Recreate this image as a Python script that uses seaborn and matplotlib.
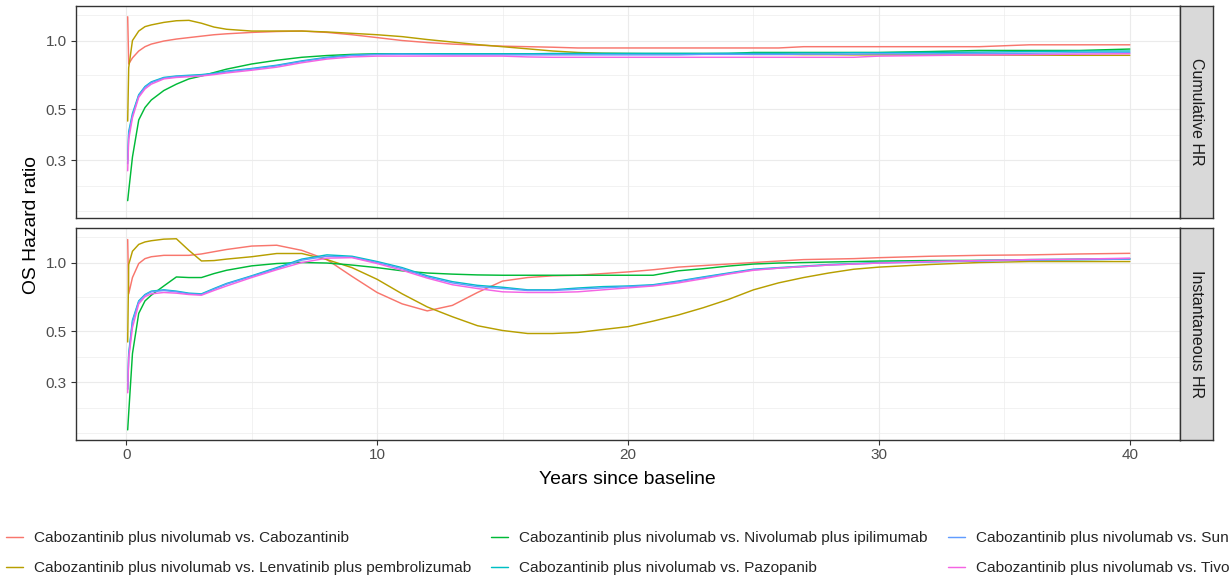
import numpy as np
import pandas as pd
import matplotlib
matplotlib.use("Agg")
import matplotlib.pyplot as plt
import seaborn as sns
from matplotlib.ticker import FixedLocator, FixedFormatter, NullFormatter
from matplotlib.lines import Line2D

# comparisons (legend order) and ggplot default hue colours
comparisons = [
    "Cabozantinib plus nivolumab vs. Cabozantinib",
    "Cabozantinib plus nivolumab vs. Lenvatinib plus pembrolizumab",
    "Cabozantinib plus nivolumab vs. Nivolumab plus ipilimumab",
    "Cabozantinib plus nivolumab vs. Pazopanib",
    "Cabozantinib plus nivolumab vs. Sunitinib",
    "Cabozantinib plus nivolumab vs. Tivozanib",
]
colors = ["#F8766D", "#B79F00", "#00BA38", "#00BFC4", "#619CFF", "#F564E3"]
panels = ["Cumulative HR", "Instantaneous HR"]

years = [0.06, 0.1, 0.25, 0.5, 0.75, 1, 1.5, 2, 2.5, 3, 3.5, 4, 5, 6, 7, 8, 9, 10,
         11, 12, 13, 14, 15, 16, 17, 18, 19, 20, 21, 22, 23, 24, 25, 26, 27, 28, 29,
         30, 32, 34, 36, 38, 40]

# cumulative HR
cum_cabo = [1.27, 0.79, 0.84, 0.90, 0.94, 0.965, 0.995, 1.015, 1.03, 1.045, 1.06, 1.07,
            1.085, 1.095, 1.10, 1.085, 1.06, 1.03, 1.00, 0.98, 0.965, 0.955, 0.945, 0.94,
            0.935, 0.928, 0.928, 0.928, 0.928, 0.928, 0.928, 0.928, 0.928, 0.928, 0.94,
            0.94, 0.94, 0.94, 0.94, 0.94, 0.958, 0.958, 0.958]
cum_lenva = [0.445, 0.76, 1.0, 1.10, 1.15, 1.17, 1.20, 1.22, 1.225, 1.19, 1.145, 1.12,
             1.10, 1.10, 1.10, 1.09, 1.075, 1.06, 1.04, 1.01, 0.985, 0.96, 0.94, 0.92,
             0.90, 0.887, 0.88, 0.877, 0.875, 0.875, 0.873, 0.872, 0.87, 0.87, 0.868,
             0.868, 0.866, 0.866, 0.865, 0.864, 0.863, 0.862, 0.862]
cum_nivo = [0.20, 0.22, 0.31, 0.45, 0.51, 0.55, 0.605, 0.645, 0.68, 0.70, 0.725, 0.75,
            0.79, 0.82, 0.845, 0.86, 0.87, 0.875, 0.875, 0.875, 0.875, 0.875, 0.875,
            0.875, 0.875, 0.878, 0.878, 0.878, 0.878, 0.878, 0.878, 0.878, 0.887, 0.887,
            0.887, 0.887, 0.887, 0.887, 0.895, 0.905, 0.905, 0.905, 0.918]
cum_pazo = [0.30, 0.40, 0.48, 0.58, 0.63, 0.66, 0.69, 0.70, 0.705, 0.71, 0.72, 0.735,
            0.755, 0.78, 0.815, 0.845, 0.865, 0.873, 0.875, 0.875, 0.875, 0.875, 0.875,
            0.875, 0.878, 0.878, 0.878, 0.878, 0.878, 0.878, 0.878, 0.88, 0.88, 0.88,
            0.882, 0.882, 0.885, 0.885, 0.888, 0.89, 0.895, 0.90, 0.90]
cum_suni = [0.29, 0.39, 0.47, 0.575, 0.625, 0.655, 0.685, 0.697, 0.70, 0.705, 0.715, 0.73,
            0.75, 0.775, 0.81, 0.84, 0.86, 0.868, 0.87, 0.868, 0.866, 0.866, 0.866, 0.866,
            0.866, 0.866, 0.866, 0.866, 0.866, 0.866, 0.87, 0.87, 0.87, 0.87, 0.872,
            0.872, 0.872, 0.875, 0.875, 0.878, 0.88, 0.885, 0.885]
cum_tivo = [0.27, 0.37, 0.46, 0.565, 0.615, 0.645, 0.68, 0.69, 0.695, 0.70, 0.71, 0.722,
            0.742, 0.765, 0.80, 0.83, 0.848, 0.855, 0.855, 0.855, 0.855, 0.855, 0.855,
            0.848, 0.845, 0.845, 0.845, 0.845, 0.845, 0.845, 0.845, 0.845, 0.845, 0.845,
            0.845, 0.845, 0.845, 0.855, 0.86, 0.865, 0.868, 0.872, 0.876]

# instantaneous HR
inst_cabo = [1.26, 0.73, 0.86, 0.99, 1.04, 1.06, 1.075, 1.075, 1.075, 1.09, 1.115, 1.14,
             1.18, 1.19, 1.13, 1.03, 0.87, 0.74, 0.66, 0.615, 0.65, 0.74, 0.83, 0.86,
             0.875, 0.88, 0.895, 0.91, 0.93, 0.955, 0.97, 0.985, 1.0, 1.015, 1.03, 1.035,
             1.04, 1.05, 1.065, 1.075, 1.08, 1.09, 1.097]
inst_lenva = [0.45, 0.98, 1.12, 1.20, 1.23, 1.245, 1.265, 1.27, 1.13, 1.016, 1.02, 1.035,
              1.06, 1.095, 1.095, 1.03, 0.95, 0.845, 0.73, 0.64, 0.58, 0.53, 0.505, 0.49,
              0.49, 0.495, 0.51, 0.525, 0.555, 0.59, 0.635, 0.69, 0.76, 0.815, 0.86, 0.90,
              0.935, 0.955, 0.98, 1.0, 1.01, 1.01, 1.01]
inst_nivo = [0.186, 0.22, 0.40, 0.60, 0.68, 0.72, 0.79, 0.865, 0.86, 0.86, 0.895, 0.925,
             0.967, 0.99, 1.0, 0.995, 0.975, 0.95, 0.92, 0.90, 0.89, 0.883, 0.88, 0.88,
             0.88, 0.88, 0.88, 0.88, 0.88, 0.92, 0.94, 0.965, 0.985, 0.995, 1.0, 1.005,
             1.01, 1.015, 1.02, 1.022, 1.025, 1.03, 1.035]
inst_pazo = [0.28, 0.40, 0.56, 0.68, 0.725, 0.75, 0.76, 0.75, 0.735, 0.73, 0.77, 0.81,
             0.875, 0.95, 1.035, 1.08, 1.065, 1.01, 0.95, 0.875, 0.825, 0.795, 0.78, 0.76,
             0.76, 0.774, 0.785, 0.79, 0.80, 0.83, 0.865, 0.90, 0.935, 0.95, 0.965, 0.98,
             0.99, 1.0, 1.01, 1.02, 1.03, 1.035, 1.04]
inst_suni = [0.28, 0.39, 0.55, 0.675, 0.72, 0.745, 0.755, 0.745, 0.73, 0.725, 0.765, 0.805,
             0.87, 0.94, 1.025, 1.065, 1.055, 1.0, 0.94, 0.865, 0.815, 0.785, 0.77, 0.755,
             0.755, 0.765, 0.775, 0.785, 0.795, 0.825, 0.86, 0.895, 0.93, 0.945, 0.96,
             0.975, 0.985, 0.995, 1.005, 1.015, 1.025, 1.03, 1.035]
inst_tivo = [0.27, 0.38, 0.52, 0.66, 0.71, 0.73, 0.74, 0.735, 0.725, 0.72, 0.755, 0.79,
             0.86, 0.93, 1.0, 1.045, 1.05, 0.99, 0.925, 0.855, 0.80, 0.77, 0.745, 0.74,
             0.74, 0.745, 0.76, 0.775, 0.79, 0.815, 0.85, 0.89, 0.925, 0.945, 0.96, 0.975,
             0.985, 0.995, 1.01, 1.02, 1.03, 1.035, 1.045]

cum_series = [cum_cabo, cum_lenva, cum_nivo, cum_pazo, cum_suni, cum_tivo]
inst_series = [inst_cabo, inst_lenva, inst_nivo, inst_pazo, inst_suni, inst_tivo]

rows = []
for panel, series in zip(panels, [cum_series, inst_series]):
    for comp, vals in zip(comparisons, series):
        for t, v in zip(years, vals):
            rows.append((panel, comp, t, v))
df = pd.DataFrame(rows, columns=["panel", "comparison", "year", "hr"])

sns.set_style("white")
plt.rcParams["font.family"] = ["Liberation Sans", "DejaVu Sans"]

W, H = 1229, 579
fig = plt.figure(figsize=(W / 100, H / 100), dpi=100)

def box(x0, y0, x1, y1):
    return [x0 / W, 1 - y1 / H, (x1 - x0) / W, (y1 - y0) / H]

panel_boxes = [(76, 6, 1180, 218), (76, 228, 1180, 440)]
palette = dict(zip(comparisons, colors))

for i, (panel, (x0, y0, x1, y1)) in enumerate(zip(panels, panel_boxes)):
    ax = fig.add_axes(box(x0, y0, x1, y1))
    sub = df[df["panel"] == panel]
    sns.lineplot(data=sub, x="year", y="hr", hue="comparison", hue_order=comparisons,
                 palette=palette, estimator=None, legend=False, lw=1.05, ax=ax)
    ax.set_yscale("log")
    ax.set_ylim(0.168, 1.415)
    ax.set_xlim(-2, 42)
    ax.yaxis.set_major_locator(FixedLocator([0.3, 0.5, 1.0]))
    ax.yaxis.set_major_formatter(FixedFormatter(["0.3", "0.5", "1.0"]))
    ax.yaxis.set_minor_locator(FixedLocator([0.18, 0.2324, 0.3873, 0.7071, 1.291]))
    ax.yaxis.set_minor_formatter(NullFormatter())
    ax.xaxis.set_major_locator(FixedLocator([0, 10, 20, 30, 40]))
    ax.xaxis.set_minor_locator(FixedLocator([5, 15, 25, 35]))
    ax.grid(which="major", color="#EBEBEB", lw=0.85)
    ax.grid(which="minor", color="#EBEBEB", lw=0.45)
    ax.set_axisbelow(True)
    ax.set_xlabel("")
    ax.set_ylabel("")
    for s in ax.spines.values():
        s.set_color("#333333")
        s.set_linewidth(1.0)
    ax.tick_params(which="major", axis="y", length=3.5, width=0.8, color="#333333",
                   labelsize=11, labelcolor="#4D4D4D", pad=3, left=True)
    ax.tick_params(which="minor", length=0)
    if i == 0:
        ax.tick_params(axis="x", which="both", bottom=False, labelbottom=False)
    else:
        ax.tick_params(which="major", axis="x", length=3.5, width=0.8, color="#333333",
                       labelsize=11, labelcolor="#4D4D4D", pad=2, bottom=True)

    sx = fig.add_axes(box(1180, y0, 1213, y1))
    sx.set_facecolor("#D9D9D9")
    sx.set_xticks([])
    sx.set_yticks([])
    for s in sx.spines.values():
        s.set_color("#333333")
        s.set_linewidth(1.0)
    sx.text(0.5, 0.5, panel, rotation=-90, ha="center", va="center",
            fontsize=11.5, color="#1A1A1A", transform=sx.transAxes)

fig.text(31 / W, 1 - 225 / H, "OS Hazard ratio", rotation=90, ha="center", va="center",
         fontsize=13.9, color="black")
fig.text(627 / W, 1 - 480 / H, "Years since baseline", ha="center", va="center",
         fontsize=13.9, color="black")

# legend runs past both figure edges, as in the reference
handles = [Line2D([], [], color=c, lw=1.05) for c in colors]
fig.legend(handles, comparisons, loc="upper left", bbox_to_anchor=(6 / W, 1 - 531 / H),
           ncol=3, frameon=False, fontsize=11.1, handlelength=1.1, handletextpad=0.72,
           columnspacing=1.3, borderpad=0, borderaxespad=0, labelspacing=1.06)

fig.savefig("out.png", dpi=100)
